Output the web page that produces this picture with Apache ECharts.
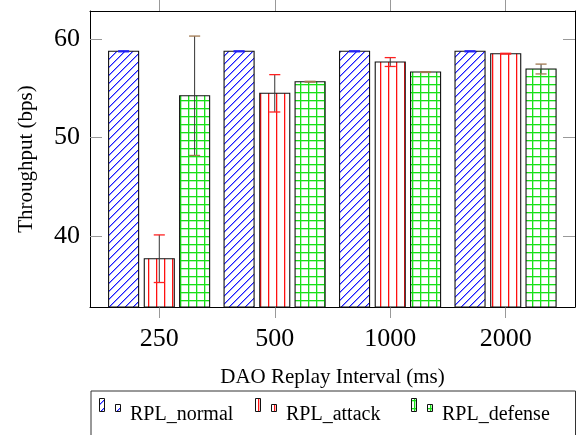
<!DOCTYPE html>
<html>
<head>
<meta charset="utf-8">
<script src="https://cdn.jsdelivr.net/npm/echarts@6/dist/echarts.min.js"></script>
<style>html,body{margin:0;padding:0;background:#fff;}#c{width:578px;height:435px;}</style>
</head>
<body>
<div id="c"></div>
<script>
// ---- data ----
const categories = ['250', '500', '1000', '2000'];
const seriesNames = ['RPL_normal', 'RPL_attack', 'RPL_defense'];
const normalValues = [58.78, 58.78, 58.78, 58.78];
const normalErrors = [0.05, 0.05, 0.05, 0.05];
const attackValues = [37.69, 54.51, 57.69, 58.54];
const attackErrors = [2.42, 1.9, 0.45, 0.04];
const defenseValues = [54.26, 55.69, 56.67, 56.98];
const defenseErrors = [6.07, 0.04, 0.04, 0.5];
const yTicks = [40, 50, 60];
const yMin = 32.78, yMax = 62.88;

// ---- patterns ----
function makeTile(draw) {
  const c = document.createElement('canvas');
  c.width = 8; c.height = 8;
  const g = c.getContext('2d');
  g.fillStyle = '#fff'; g.fillRect(0, 0, 8, 8);
  draw(g);
  return c;
}
const blueTile = makeTile(g => {
  g.fillStyle = '#1a1aff';
  for (let i = 0; i < 8; i++) {
    g.fillRect(i, 7 - i, 1, 1);
  }
  g.fillStyle = 'rgba(60,60,255,0.55)';
  for (let i = 0; i < 8; i++) {
    g.fillRect((i + 1) % 8, 7 - i, 1, 1);
  }
});
const redTile = makeTile(g => {
  g.fillStyle = '#ff1010';
  g.fillRect(4, 0, 1, 8);
  g.fillStyle = 'rgba(255,60,60,0.35)';
  g.fillRect(5, 0, 1, 8);
});
const greenTile = makeTile(g => {
  g.fillStyle = '#16e016';
  g.fillRect(4, 0, 1, 8);
  g.fillRect(0, 4, 8, 1);
  g.fillStyle = 'rgba(40,230,40,0.35)';
  g.fillRect(5, 0, 1, 8);
  g.fillRect(0, 5, 8, 1);
});
const tiles = [blueTile, redTile, greenTile];
const patterns = tiles.map(t => ({ image: t, repeat: 'repeat' }));
const capColors = ['#2020ff', '#ff2020', '#a07850'];
const offsets = [-0.309, 0, 0.306];
const halfBar = 0.13;
const capHalf = 0.048;

const valueSets = [normalValues, attackValues, defenseValues];
const errorSets = [normalErrors, attackErrors, defenseErrors];

function makeSeries(k) {
  return {
    type: 'custom',
    name: seriesNames[k],
    xAxisIndex: 0,
    yAxisIndex: 0,
    data: categories.map((c, i) => [i, valueSets[k][i], errorSets[k][i]]),
    renderItem: function (params, api) {
      const x = api.value(0) + offsets[k];
      const v = api.value(1), e = api.value(2);
      const tl = api.coord([x - halfBar, v]);
      const br = api.coord([x + halfBar, yMin]);
      const top = api.coord([x, v + e]);
      const bot = api.coord([x, v - e]);
      const capL = api.coord([x - capHalf, v])[0];
      const capR = api.coord([x + capHalf, v])[0];
      return {
        type: 'group',
        children: [
          { type: 'rect', shape: { x: tl[0], y: tl[1], width: br[0] - tl[0], height: br[1] - tl[1] },
            style: { fill: patterns[k], stroke: '#111', lineWidth: 1.1 } },
          { type: 'line', shape: { x1: top[0], y1: top[1], x2: bot[0], y2: bot[1] },
            style: { stroke: '#333', lineWidth: 1 } },
          { type: 'line', shape: { x1: capL, y1: top[1], x2: capR, y2: top[1] },
            style: { stroke: capColors[k], lineWidth: 1.3 } },
          { type: 'line', shape: { x1: capL, y1: bot[1], x2: capR, y2: bot[1] },
            style: { stroke: capColors[k], lineWidth: 1.3 } }
        ]
      };
    }
  };
}

const serif = 'Liberation Serif';
const tickIdx = categories.map((c, i) => i);

// ---- legend (graphic) ----
const legendX = [99.5, 255.5, 411.5];
const legendPatShift = [[0, 0], [-2, 4], [2, 4]];
const legendGraphics = [
  { type: 'rect', shape: { x: 91, y: 391, width: 484.5, height: 60 },
    style: { fill: 'none', stroke: '#333', lineWidth: 1 } }
];
seriesNames.forEach((n, k) => {
  const x0 = legendX[k];
  const pat = { image: tiles[k], repeat: 'repeat', x: legendPatShift[k][0], y: legendPatShift[k][1] };
  legendGraphics.push(
    { type: 'rect', shape: { x: x0, y: 398.5, width: 5, height: 13 },
      style: { fill: pat, stroke: '#111', lineWidth: 1 } },
    { type: 'rect', shape: { x: x0 + 16, y: 404.5, width: 5, height: 7 },
      style: { fill: pat, stroke: '#111', lineWidth: 1 } },
    { type: 'text', x: x0 + 30.5, y: 415,
      style: { text: n, font: '20px "Liberation Serif"', fill: '#000', verticalAlign: 'middle', align: 'left' } }
  );
});

const chart = echarts.init(document.getElementById('c'), null, { renderer: 'canvas' });
chart.setOption({
  animation: false,
  backgroundColor: '#fff',
  grid: { left: 90, top: 11, width: 485, height: 296, show: false },
  xAxis: [
    {
      type: 'value', position: 'bottom', min: -0.6, max: 3.6,
      name: 'DAO Replay Interval (ms)', nameLocation: 'middle', nameGap: 60,
      nameTextStyle: { fontFamily: serif, fontSize: 21, color: '#000', lineHeight: 21 },
      axisLine: { show: true, onZero: false, lineStyle: { color: '#000', width: 1 } },
      axisTick: { show: true, inside: false, length: 11, customValues: tickIdx, lineStyle: { color: '#999', width: 1 } },
      axisLabel: { show: true, customValues: tickIdx, formatter: v => categories[Math.round(v)],
        fontFamily: serif, fontSize: 26, color: '#000', margin: 19, lineHeight: 26 },
      splitLine: { show: false }
    },
    {
      type: 'value', position: 'top', min: -0.6, max: 3.6,
      axisLine: { show: true, onZero: false, lineStyle: { color: '#000', width: 1 } },
      axisTick: { show: true, inside: false, length: 11, customValues: tickIdx, lineStyle: { color: '#999', width: 1 } },
      axisLabel: { show: false },
      splitLine: { show: false }
    }
  ],
  yAxis: [
    {
      type: 'value', position: 'left', min: yMin, max: yMax,
      name: 'Throughput (bps)', nameLocation: 'middle', nameGap: 53, nameRotate: 90,
      nameTextStyle: { fontFamily: serif, fontSize: 21, color: '#000', lineHeight: 21 },
      axisLine: { show: true, onZero: false, lineStyle: { color: '#000', width: 1 } },
      axisTick: { show: true, inside: true, length: 12, customValues: yTicks, lineStyle: { color: '#999', width: 1 } },
      axisLabel: { show: true, customValues: yTicks, fontFamily: serif, fontSize: 26, color: '#000', margin: 10 },
      splitLine: { show: false }
    },
    {
      type: 'value', position: 'right', min: yMin, max: yMax,
      axisLine: { show: true, onZero: false, lineStyle: { color: '#000', width: 1 } },
      axisTick: { show: true, inside: true, length: 12, customValues: yTicks, lineStyle: { color: '#999', width: 1 } },
      axisLabel: { show: false },
      splitLine: { show: false }
    }
  ],
  series: [0, 1, 2].map(makeSeries),
  graphic: legendGraphics
});
</script>
</body>
</html>
